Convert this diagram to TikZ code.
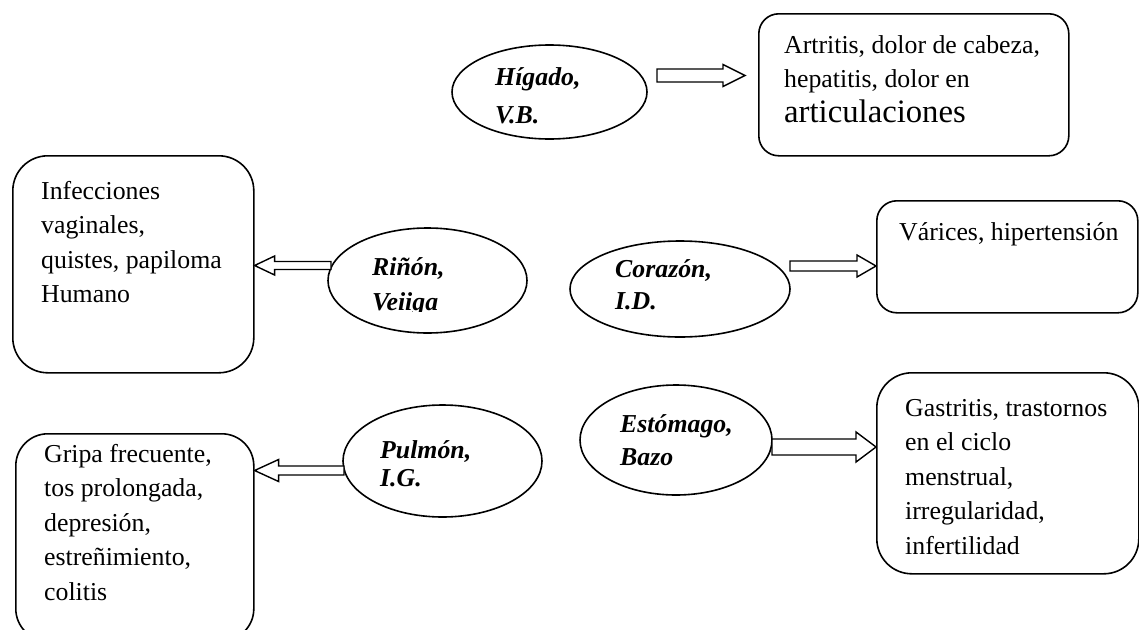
\documentclass[tikz,border=0pt]{standalone}
\usepackage{fontspec}
\setmainfont{Liberation Serif}
\usetikzlibrary{shapes.geometric,calc}
\newcommand\bodyfs{\fontsize{25.8}{34.5}\selectfont}
\newcommand\bigfs{\fontsize{32.7}{36}\selectfont}
\newcommand\topstrut{\rule{0pt}{24pt}}
\tikzset{
  box/.style={draw, line width=1.6pt, rounded corners=#1, inner sep=0pt, anchor=north west},
  box/.default=20pt,
  organ/.style={draw, ellipse, line width=1.6pt, inner sep=0pt},
  txt/.style={inner sep=0pt, anchor=north west, align=left, font=\bodyfs},
  otxt/.style={inner sep=0pt, anchor=north west, align=left, font=\fontsize{25.8}{#1}\selectfont\bfseries\itshape},
  barrow/.style={draw, fill=white, line width=1.4pt, line join=miter},
  blockarrow/.style n args={3}{to path={let \p1=(\tikztostart), \p2=(\tikztotarget), \p3=($(\tikztotarget)!#3!(\tikztostart)$) in
    (\x1,\y1+#1) -- (\x3,\y1+#1) -- (\x3,\y1+#2) -- (\x2,\y1) -- (\x3,\y1-#2) -- (\x3,\y1-#1) -- (\x1,\y1-#1) -- cycle}}
}
\begin{document}
\begin{tikzpicture}[x=1pt,y=-1pt]
\useasboundingbox (0,0) rectangle (1139,629);

% boxes
\node[box=20pt, minimum width=310, minimum height=142] (artr) at (758,13) {};
\node[box=35pt, minimum width=241, minimum height=217] (infe) at (12,155) {};
\node[box=20pt, minimum width=261, minimum height=112] (vari) at (876,200) {};
\node[box=32pt, minimum width=238, minimum height=207] (grip) at (15,433) {};
\node[box=35pt, minimum width=262, minimum height=201] (gast) at (876,372) {};

% box texts
\node[txt] (artrT) at (784,29) {\topstrut Artritis, dolor de cabeza,\\hepatitis, dolor en\\{\bigfs articulaciones}};
\node[txt] (infeT) at (41,175) {\topstrut Infecciones\\vaginales,\\quistes, papiloma\\Humano};
\node[txt] (variT) at (899,216) {\topstrut Várices, hipertensión};
\node[txt] (gripT) at (44,438) {\topstrut Gripa frecuente,\\tos prolongada,\\depresión,\\estreñimiento,\\colitis};
\node[txt] (gastT) at (905,392) {\topstrut Gastritis, trastornos\\en el ciclo\\menstrual,\\irregularidad,\\infertilidad};

% organ ellipses
\node[organ, minimum width=195, minimum height=94] (hig) at (549.5,92) {};
\node[organ, minimum width=199, minimum height=105] (rin) at (427.5,280.5) {};
\node[organ, minimum width=220, minimum height=96] (cor) at (680,289) {};
\node[organ, minimum width=199, minimum height=112] (pul) at (442.5,461) {};
\node[organ, minimum width=192, minimum height=110] (est) at (676,440) {};

% organ texts
\node[otxt=38] (higT) at (495,61) {\topstrut Hígado,\\V.B.};
\begin{scope}
  \clip (0,0) rectangle (1139,311);
  \node[otxt=35] (rinT) at (372,251) {\topstrut Riñón,\\Veiiga};
\end{scope}
\node[otxt=32] (corT) at (615,253) {\topstrut Corazón,\\I.D.};
\node[otxt=28] (pulT) at (380,434) {\topstrut Pulmón,\\I.G.};
\node[otxt=33] (estT) at (620,408) {\topstrut Estómago,\\Bazo};

% block arrows
\coordinate (a1s) at (657,75.5);
\coordinate (a1e) at (745,75.5);
\coordinate (a2s) at (331,265.5);
\coordinate (a2e) at (a2s -| infe.east);
\coordinate (a3s) at (790,266);
\coordinate (a3e) at (a3s -| vari.west);
\coordinate (a4s) at (344,470.5);
\coordinate (a4e) at (a4s -| grip.east);
\coordinate (a5s) at (772,447);
\coordinate (a5e) at (a5s -| gast.west);
\draw[barrow] (a1s) to[blockarrow={6.5}{11}{22pt}] (a1e);
\draw[barrow] (a2s) to[blockarrow={4}{9.5}{20pt}] (a2e);
\draw[barrow] (a3s) to[blockarrow={5}{11}{19pt}] (a3e);
\draw[barrow] (a4s) to[blockarrow={4.5}{11}{24pt}] (a4e);
\draw[barrow] (a5s) to[blockarrow={8}{15}{20pt}] (a5e);
\end{tikzpicture}
\end{document}
